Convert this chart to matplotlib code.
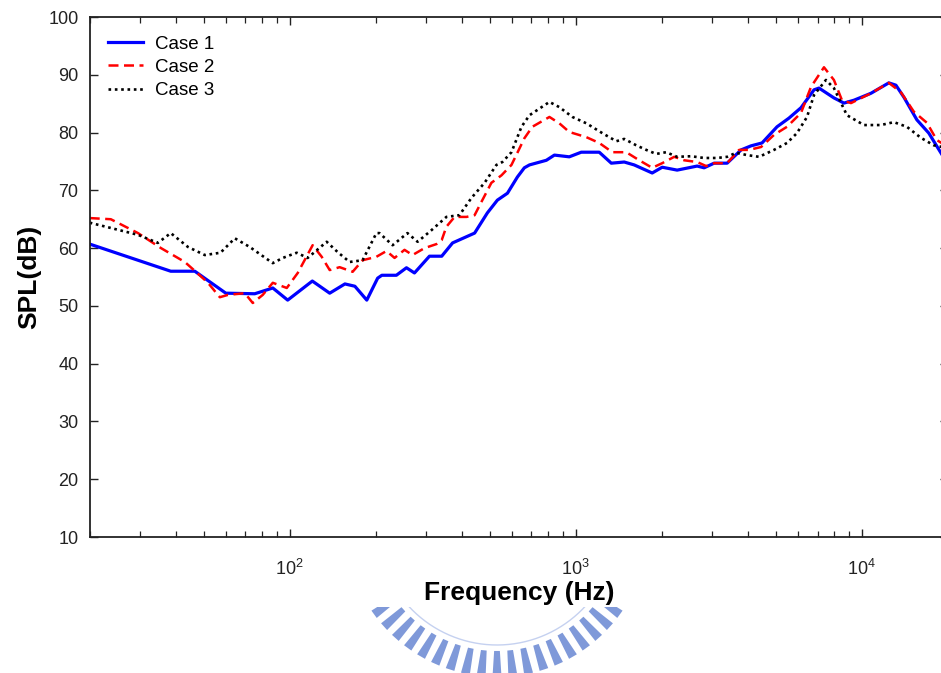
import numpy as np
import matplotlib
matplotlib.use("Agg")
import matplotlib.pyplot as plt
from matplotlib.ticker import LogLocator, NullFormatter
from matplotlib.patches import Polygon, Rectangle

plt.rcParams['font.family'] = ['Liberation Sans', 'DejaVu Sans']
plt.rcParams['mathtext.default'] = 'regular'

# --- data ---
freq1 = [20, 38.4, 46.6, 59.8, 75.5, 87.3, 98.4, 120, 138, 156, 169, 186, 203, 210,
         236, 256, 273, 308, 340, 371, 443, 491, 532, 577, 625, 661, 689, 789, 842,
         949, 1045, 1208, 1331, 1477, 1600, 1850, 2005, 2261, 2656, 2810, 3045, 3381,
         3783, 4099, 4478, 5052, 5561, 6127, 6804, 7081, 7985, 8656, 9385, 10760,
         12420, 13150, 14030, 15570, 17140, 18720, 20000]
spl1 = [60.7, 56.0, 56.0, 52.2, 52.1, 53.1, 51.0, 54.3, 52.2, 53.8, 53.4, 51.0, 54.8, 55.3,
        55.3, 56.6, 55.7, 58.6, 58.6, 60.9, 62.6, 66.1, 68.3, 69.5, 72.3, 73.9, 74.4, 75.2, 76.1,
        75.8, 76.6, 76.6, 74.7, 74.9, 74.4, 73.0, 74.0, 73.5, 74.2, 73.9, 74.7, 74.7,
        77.0, 77.7, 78.2, 81.0, 82.5, 84.3, 87.4, 87.7, 86.0, 85.1, 85.6, 86.8,
        88.6, 88.2, 86.1, 82.2, 79.9, 76.8, 74.5]

freq2 = [20, 23.7, 29.5, 35.5, 43.0, 47.0, 51.8, 57.0, 60.8, 69.7, 74.3, 80.5, 87.3, 97.7,
         106.7, 120.3, 129.4, 138, 149.5, 166, 179.8, 201, 218, 232.6, 252, 268.8, 296, 326,
         340, 353, 377, 415, 443, 468, 507, 550, 596, 625, 661, 705, 809, 876, 949, 1089,
         1208, 1342, 1501, 1667, 1850, 2005, 2209, 2393, 2656, 2856, 3045, 3381, 3723, 4034,
         4444, 4931, 5475, 6127, 6640, 7371, 7985, 8519, 9163, 10760, 12420, 13680, 15200,
         16870, 18280, 20000]
spl2 = [65.2, 65.0, 62.6, 60.0, 57.6, 55.9, 54.0, 51.5, 51.9, 52.2, 50.5, 51.9, 54.0, 53.1,
        55.7, 60.5, 58.5, 56.2, 56.7, 55.9, 57.9, 58.5, 59.5, 58.3, 59.7, 58.8, 60.0, 60.7,
        61.4, 63.7, 65.4, 65.4, 65.7, 68.0, 71.3, 72.6, 74.4, 76.5, 79.0, 81.0, 82.7, 81.6, 80.1, 79.2,
        78.2, 76.6, 76.6, 75.2, 73.9, 74.7, 75.8, 75.2, 74.9, 74.2, 74.7, 74.7, 77.0, 77.0,
        77.5, 79.6, 81.0, 83.4, 87.9, 91.3, 89.1, 85.6, 85.1, 86.8, 88.6, 87.0, 83.6,
        81.7, 78.7, 77.5]

freq3 = [20, 23.2, 29.5, 34.6, 38.4, 44.1, 50.5, 57.3, 64.3, 72.5, 87.3, 94.6, 105.8, 115.6,
         134.7, 147.2, 162, 179.8, 201, 206, 229, 258, 280, 313, 353, 392, 432, 480, 528, 554,
         596, 646, 689, 809, 876, 973, 1089, 1238, 1386, 1477, 1626, 1763, 1910, 2070, 2261,
         2530, 2810, 3120, 3381, 3632, 3970, 4372, 4931, 5475, 5930, 6430, 6804, 7488, 7985,
         8868, 10170, 11650, 12940, 14360, 16070, 17830, 20000]
spl3 = [64.4, 63.6, 62.3, 60.9, 62.6, 60.2, 58.8, 59.2, 61.7, 60.2, 57.4, 58.3, 59.2, 58.3,
        61.1, 59.3, 57.6, 57.9, 62.6, 62.6, 60.5, 62.6, 61.1, 63.1, 65.4, 65.7, 68.7, 71.3, 74.4, 74.9,
        76.6, 81.0, 83.0, 85.3, 84.4, 82.7, 81.6, 79.9, 78.5, 78.9, 77.8, 77.0, 76.3, 76.6, 75.8,
        75.9, 75.6, 75.6, 75.8, 76.5, 76.1, 75.8, 77.0, 78.2, 79.9, 82.7, 86.5, 89.1, 87.7,
        83.0, 81.3, 81.3, 81.8, 81.0, 79.1, 77.8, 77.3]

labels = ['Case 1', 'Case 2', 'Case 3']
yticks = [10, 20, 30, 40, 50, 60, 70, 80, 90, 100]

W, H = 941, 673
fig = plt.figure(figsize=(W / 100, H / 100), dpi=100)

# faint logo watermark under the x label
bg = fig.add_axes([0, 0, 1, 1], zorder=-5)
bg.set_xlim(0, W)
bg.set_ylim(H, 0)
bg.axis('off')
clip = Rectangle((0, 607), W, H - 607, transform=bg.transData)
cx, cy, r_in, r_out = 497, 525, 126, 152
wm = '#7f99d9'
for ang in np.arange(-66, 67, 6.0):
    a = np.radians(ang)
    da_in, da_out = np.radians(1.3), np.radians(1.7)
    pts = [(cx + r_in * np.sin(a - da_in), cy + r_in * np.cos(a - da_in)),
           (cx + r_out * np.sin(a - da_out), cy + r_out * np.cos(a - da_out)),
           (cx + r_out * np.sin(a + da_out), cy + r_out * np.cos(a + da_out)),
           (cx + r_in * np.sin(a + da_in), cy + r_in * np.cos(a + da_in))]
    p = Polygon(pts, closed=True, color=wm, lw=0)
    bg.add_patch(p)
    p.set_clip_path(clip)
t = np.radians(np.linspace(-66, 66, 200))
ring, = bg.plot(cx + 120 * np.sin(t), cy + 120 * np.cos(t), color='#c5d1f0', lw=1.0)
ring.set_clip_path(clip)

ax = fig.add_axes([89.7 / W, 1 - 537 / H, (948 - 89.7) / W, (537 - 17) / H])
ax.semilogx(freq1, spl1, color='#0000ff', lw=2.3, label=labels[0])
ax.semilogx(freq2, spl2, color='#ff0000', lw=1.8, linestyle=(0, (4, 2.2)), label=labels[1])
ax.semilogx(freq3, spl3, color='black', lw=1.9, linestyle=(0, (1, 1.4)), label=labels[2])

ax.set_xlim(20, 20000)
ax.set_ylim(10, 100)
ax.set_yticks(yticks)
ax.xaxis.set_minor_locator(LogLocator(base=10, subs=np.arange(2, 10)))
ax.xaxis.set_minor_formatter(NullFormatter())
ax.tick_params(which='both', direction='in', top=True, right=True, labelsize=13,
               colors='#222222')
ax.tick_params(which='major', length=6, width=1.0)
ax.tick_params(which='minor', length=4, width=0.9)
ax.tick_params(axis='x', pad=16)
ax.tick_params(axis='y', pad=8)
for s in ax.spines.values():
    s.set_linewidth(1.3)
    s.set_color('#222222')

ax.set_xlabel('Frequency (Hz)', fontsize=19, fontweight='bold', labelpad=1)
ax.set_ylabel('SPL(dB)', fontsize=19, fontweight='bold', labelpad=5)

ax.legend(loc='upper left', frameon=False, fontsize=13.5, handlelength=1.85,
          handletextpad=0.65, labelspacing=0.32, borderaxespad=0.6, borderpad=0.4)

fig.savefig('out.png', dpi=100)
